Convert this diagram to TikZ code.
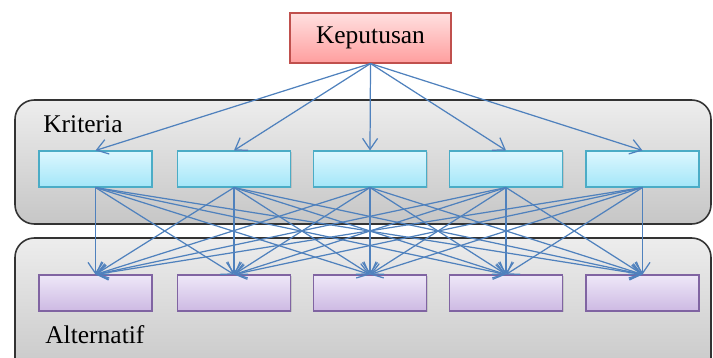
\documentclass[tikz,border=0pt]{standalone}
\usepackage{fontspec}
\setmainfont{Liberation Serif}
\usepackage{tikz}
\usetikzlibrary{arrows.meta,positioning,shadows}
\definecolor{arrowblue}{HTML}{4F81BD}
\definecolor{redtop}{HTML}{FFE0E0}
\definecolor{redbot}{HTML}{FF9E9E}
\definecolor{redline}{HTML}{C0504D}
\definecolor{cyantop}{HTML}{DDF7FF}
\definecolor{cyanbot}{HTML}{A3E6F8}
\definecolor{cyanline}{HTML}{4BACC6}
\definecolor{lavtop}{HTML}{EEE8F8}
\definecolor{lavbot}{HTML}{CDB9E3}
\definecolor{lavline}{HTML}{8064A2}
\definecolor{paneltop}{HTML}{EDEDED}
\definecolor{panelbot}{HTML}{C6C6C6}
\tikzset{
  panel/.style={draw=black!80, line width=.9pt, rounded corners=11pt, top color=paneltop, bottom color=panelbot},
  box/.style={line width=.6pt, inner sep=0pt, minimum width=2.26cm, minimum height=.72cm,
    drop shadow={opacity=.25, shadow xshift=.8pt, shadow yshift=-.8pt}},
  goal/.style={box, draw=redline, top color=redtop, bottom color=redbot, minimum width=3.22cm, minimum height=1.0cm, font=\fontsize{14.5}{16}\selectfont},
  crit/.style={box, draw=cyanline, top color=cyantop, bottom color=cyanbot},
  alt/.style={box, draw=lavline, top color=lavtop, bottom color=lavbot},
  lbl/.style={font=\fontsize{14.5}{16}\selectfont, anchor=west, inner sep=0pt},
  ar/.style={-{Straight Barb[length=2.2mm, width=3mm]}, line width=.7pt, draw=arrowblue},
}
\begin{document}
\begin{tikzpicture}[x=0.02cm, y=-0.02cm]
  \useasboundingbox (0,0) rectangle (713,358);
  % panels
  \draw[panel] (15,100) rectangle (711,224);
  \draw[panel] (15,238) rectangle (711,380);
  \node[lbl] (lkrit) at (43,124) {Kriteria};
  \node[lbl] (lalt) at (45,335) {Alternatif};
  % goal
  \node[goal] (kep) at (370.5,38) {Keputusan};
  % criteria and alternatives
  \foreach \i/\x in {1/95.5, 2/234, 3/370, 4/506, 5/642.5}{
    \node[crit] (k\i) at (\x,169) {};
    \node[alt] (a\i) at (\x,293) {};
  }
  \foreach \i in {1,...,5}{
    \draw[ar] (kep.south) -- (k\i.north);
    \foreach \j in {1,...,5}
      \draw[ar] (k\i.south) -- (a\j.north);
  }
\end{tikzpicture}
\end{document}
